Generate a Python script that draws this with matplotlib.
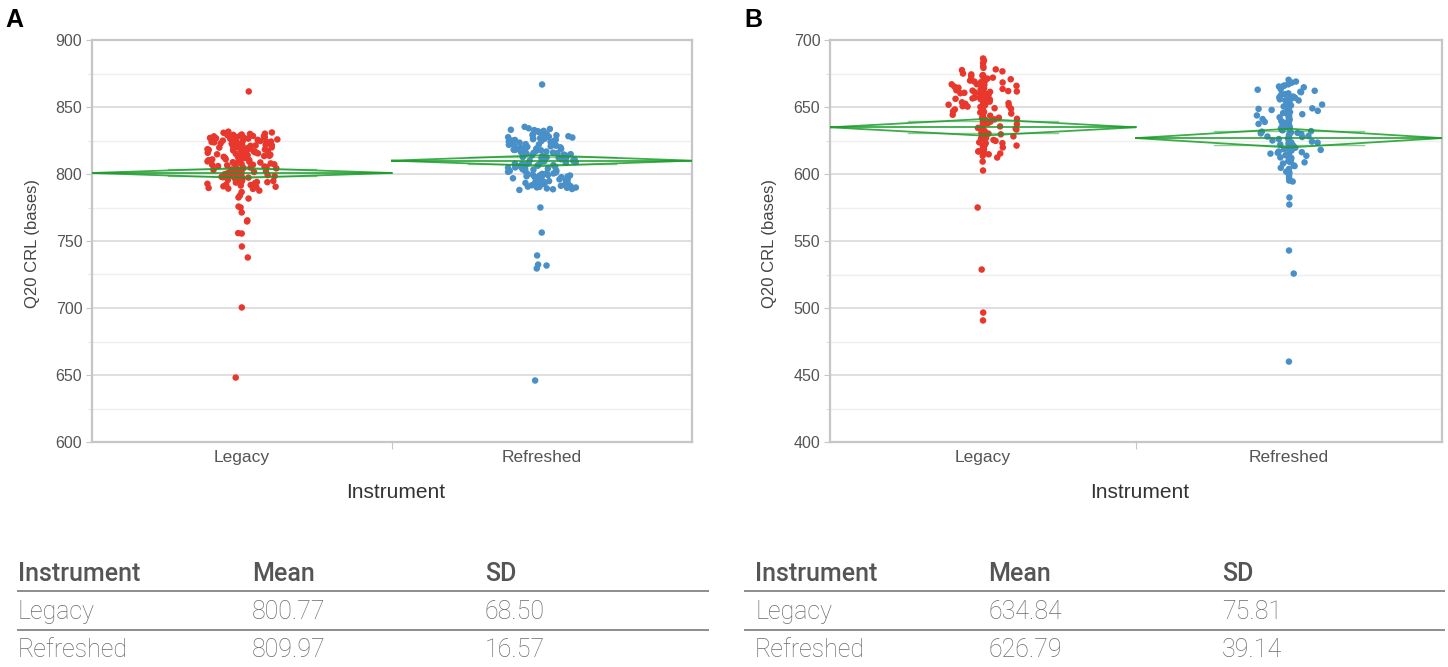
import numpy as np
import matplotlib
matplotlib.use("Agg")
import matplotlib.pyplot as plt
from matplotlib.lines import Line2D
from matplotlib.ticker import MultipleLocator

instruments = ["Legacy", "Refreshed"]

# ---- Panel A: Q20 CRL per run (bases) ----
a_legacy = [
    861.6, 782.5, 781.7, 784.0, 775.0, 775.7, 771.3, 764.6, 765.4, 755.6,
    755.9, 745.9, 737.7, 700.4, 648.1,
    829.5, 826.3, 830.8, 827.1, 824.6, 828.9, 822.4, 825.8, 831.6, 823.2,
    819.7, 826.9, 821.5, 828.2, 817.9, 824.1, 820.6, 827.6, 815.4, 822.8,
    829.9, 818.3, 825.1, 813.6, 820.2, 826.4, 816.7, 823.9, 811.8, 819.1,
    828.6, 814.9, 821.3, 809.7, 817.2, 824.7, 812.5, 819.8, 807.4, 815.6,
    822.1, 810.3, 818.6, 805.9, 813.1, 827.3, 808.6, 816.1, 803.7, 811.4,
    825.5, 806.8, 814.2, 801.9, 809.1, 823.6, 804.5, 812.8, 799.8, 807.9,
    821.9, 802.6, 810.9, 797.6, 805.2, 820.4, 800.7, 808.3, 795.8, 803.4,
    818.9, 798.9, 806.5, 794.3, 801.5, 817.5, 797.1, 804.8, 792.7, 799.6,
    815.8, 795.2, 802.9, 791.4, 797.9, 813.9, 793.6, 800.3, 790.2, 796.5,
    811.9, 792.1, 798.4, 788.9, 794.8, 810.4, 790.8, 796.9, 787.6, 793.2,
    830.1, 828.1, 826.0, 824.2, 822.6, 821.0, 819.4, 816.9, 814.4, 812.2,
    809.4, 806.1, 803.0, 800.5, 798.1, 795.5, 793.9, 791.8, 789.6, 786.5,
    825.3, 818.0, 811.0, 804.2, 797.3, 828.4, 821.7, 814.7, 807.2, 800.9,
    829.2, 823.5, 817.6, 812.0, 805.6, 799.2, 794.0, 789.1, 826.7, 820.0,
    815.1, 808.8, 802.1, 796.2, 790.5, 831.0, 824.9, 818.5, 813.4, 806.9,
]
a_refreshed = [
    866.8, 775.0, 756.3, 739.2, 731.7, 732.4, 729.5, 645.9,
    835.2, 831.4, 827.8, 833.6, 829.1, 825.4, 832.2, 828.5, 824.1, 830.7,
    826.3, 822.6, 829.4, 823.9, 820.2, 827.2, 821.8, 818.4, 825.6, 819.5,
    816.3, 823.1, 817.7, 814.8, 821.4, 815.9, 812.3, 819.9, 813.6, 810.7,
    818.1, 811.4, 808.9, 816.5, 809.6, 806.2, 814.2, 807.8, 804.5, 812.6,
    805.9, 802.3, 810.8, 803.7, 800.6, 808.4, 801.8, 798.9, 806.7, 799.4,
    796.8, 804.9, 797.6, 794.7, 802.8, 795.9, 792.6, 800.1, 793.8, 790.9,
    798.3, 791.6, 789.2, 796.2, 790.4, 788.1, 794.1, 792.0, 789.7, 797.1,
    834.1, 830.0, 826.8, 823.4, 820.7, 817.2, 813.9, 811.0, 807.3, 803.2,
    799.8, 796.5, 793.3, 790.6, 828.9, 824.8, 821.1, 815.3, 809.2, 801.1,
    795.3, 791.2, 832.8, 826.0, 818.8, 812.1, 805.1, 798.1, 791.9, 788.6,
    827.5, 822.0, 816.0, 810.0, 804.0, 799.1, 794.4, 789.9, 820.9, 807.0,
    833.0, 819.0, 811.7, 802.0, 793.0, 824.6, 813.3, 806.0, 797.8, 790.0,
    815.7, 808.1, 800.4, 792.9, 826.6, 817.9, 809.9, 803.5, 796.0, 788.8,
    831.9, 822.3, 814.5, 806.6, 798.6, 829.8, 821.2, 812.9, 804.7, 795.6,
    825.0, 818.3, 811.9, 805.4, 799.0, 792.3, 828.2, 816.8, 809.0, 801.6,
]

# ---- Panel B ----
b_legacy = [
    686.2, 684.7, 609.3, 602.6, 575.0, 528.7, 496.6, 490.7,
    675.0, 669.0, 660.6, 650.6, 655.6, 673.4, 671.2, 668.3, 666.9, 664.1,
    662.7, 661.3, 659.8, 658.4, 657.1, 655.2, 653.8, 652.4, 651.0, 649.6,
    647.9, 646.3, 644.8, 642.9, 641.2, 639.6, 637.8, 636.1, 634.4, 632.7,
    630.8, 628.9, 627.2, 625.4, 623.6, 621.7, 619.8, 617.5, 615.3, 613.6,
    682.8, 680.4, 678.1, 676.6, 674.3, 672.0, 670.4, 669.7, 667.6, 665.8,
    663.5, 661.9, 660.1, 658.9, 656.7, 654.5, 652.9, 650.3, 648.7, 645.9,
    643.5, 640.4, 637.2, 633.9, 630.1, 626.5, 622.9, 619.1, 615.9, 612.3,
    671.9, 668.6, 665.1, 662.2, 659.3, 656.1, 653.2, 649.1, 644.2, 639.1,
    634.8, 629.6, 624.7, 618.4, 614.7, 666.3, 660.9, 657.8, 651.7, 646.8,
    641.8, 636.7, 631.5, 627.9, 620.6, 616.8, 670.7, 663.0, 654.9, 648.2,
    638.5, 628.1, 673.8, 667.0, 659.0, 650.0, 642.0, 632.0, 623.0, 617.0,
    677.5, 672.8, 664.9, 657.5, 652.0, 645.1, 635.5, 625.9, 621.2, 618.9,
    661.6, 655.9, 647.4, 640.8, 633.2, 626.9, 669.2, 663.7, 658.2, 653.5,
    664.4, 660.3, 656.4, 651.4, 668.0, 662.5, 657.0, 654.0, 679.2, 666.5,
]
b_refreshed = [
    667.5, 669.0, 666.0, 665.3, 577.2, 582.5, 542.9, 525.7, 460.0, 601.0,
    670.3, 668.2, 664.7, 662.9, 661.4, 659.6, 657.8, 656.1, 654.3, 652.7,
    651.2, 649.5, 647.8, 646.2, 644.6, 643.1, 641.4, 639.8, 638.2, 636.5,
    634.9, 633.2, 631.6, 629.9, 628.3, 626.6, 625.0, 623.4, 621.7, 620.1,
    618.5, 616.8, 615.2, 613.6, 611.9, 610.3, 608.7, 606.4, 603.8, 598.9,
    595.1, 666.9, 663.3, 660.2, 657.2, 654.9, 651.8, 648.6, 645.5, 642.3,
    639.1, 635.8, 632.6, 629.4, 626.1, 622.8, 619.6, 616.3, 613.0, 609.6,
    605.9, 601.7, 597.2, 594.4, 659.0, 653.4, 647.1, 640.7, 634.1, 627.6,
    621.1, 614.6, 607.8, 655.7, 644.0, 637.4, 630.7, 624.2, 617.7, 611.2,
    662.1, 650.4, 638.9, 628.0, 618.0, 609.0, 665.8, 656.9, 646.6, 635.3,
    624.7, 615.8, 604.6, 661.0, 649.0, 641.0, 633.8, 627.0, 620.5, 612.4,
    652.2, 643.7, 636.9, 630.3, 623.6, 616.1, 658.5, 645.9, 632.0, 619.0,
    648.0, 639.5, 631.0, 622.0, 614.0, 655.0, 637.0, 625.8, 629.0, 621.4,
]

# Summary table values
a_means = [800.77, 809.97]
a_sds = [68.50, 16.57]
b_means = [634.84, 626.79]
b_sds = [75.81, 39.14]
# Half-heights of the means diamonds (95% CI of the mean)
a_ci = [3.7, 4.0]
b_ci = [6.2, 7.0]

a_ylim = (600, 900)
b_ylim = (400, 700)

# ---- styling ----
W, H = 1448, 667
RED = "#e8372c"
BLUE = "#4a90c8"
GREEN = "#1a9c2a"
SPINE = "#c6c6c6"
TEXT = "#555555"


def fx(px):
    return px / W


def fy(py):
    return 1 - py / H


def spread(vals, width, power, phase):
    """Deterministic, hash-based horizontal spread; sparse points stay near the centre."""
    n = len(vals)
    i = np.arange(n, dtype=float)
    u = (np.sin(i * 12.9898 + phase * 78.233) * 43758.5453) % 1.0
    u = u * 2 - 1
    neighbours = (np.abs(vals[:, None] - vals[None, :]) < 6).sum(axis=1)
    scale = np.clip(neighbours / 20.0, 0.2, 1.0)
    return width * scale * np.sign(u) * np.abs(u) ** power


def draw_panel(ax, groups, means, ci, ylim, power):
    for i, (vals, col) in enumerate(zip(groups, [RED, BLUE])):
        vals = np.asarray(vals, dtype=float)
        x = i + spread(vals, 0.118, power, 1.7 * (i + 1) + ylim[0] / 100)
        ax.scatter(x, vals, s=22, color=col, edgecolors="none", zorder=3)
    r2 = np.sqrt(2)
    for i, (m, h) in enumerate(zip(means, ci)):
        ax.plot([i - 0.5, i, i + 0.5, i, i - 0.5], [m, m + h, m, m - h, m],
                color=GREEN, lw=1.3, alpha=0.85, zorder=4, solid_joinstyle="miter")
        ax.plot([i - 0.5, i + 0.5], [m, m], color=GREEN, lw=1.3, alpha=0.85, zorder=4)
        d = 0.5 * (1 - 1 / r2) + 0.1
        for s in (1, -1):
            ax.plot([i - d, i + d], [m + s * h / r2] * 2, color=GREEN, lw=1.0,
                    alpha=0.5, zorder=4)

    ax.set_xlim(-0.5, 1.5)
    ax.set_ylim(*ylim)
    ax.yaxis.set_major_locator(MultipleLocator(50))
    ax.yaxis.set_minor_locator(MultipleLocator(25))
    ax.grid(which="major", axis="y", color="#dcdcdc", lw=1.3, zorder=0)
    ax.grid(which="minor", axis="y", color="#efefef", lw=1.0, zorder=0)
    ax.set_axisbelow(True)
    for sp in ax.spines.values():
        sp.set_color(SPINE)
        sp.set_linewidth(1.6)
    ax.tick_params(axis="y", which="major", length=4, color=SPINE,
                   labelsize=11.5, labelcolor=TEXT, pad=3)
    ax.tick_params(axis="y", which="minor", length=3, color="#dddddd")
    ax.set_xticks([0.5])
    ax.set_xticklabels([""])
    ax.set_xticks([0, 1], minor=True)
    ax.set_xticklabels(instruments, minor=True)
    ax.tick_params(axis="x", which="minor", length=0, pad=6,
                   labelsize=12.5, labelcolor=TEXT)
    ax.tick_params(axis="x", which="major", length=5, color=SPINE)


plt.rcParams["font.family"] = ["Liberation Sans", "DejaVu Sans"]
fig = plt.figure(figsize=(W / 100, H / 100), dpi=100)

panels = [
    dict(left=92, right=692, groups=[a_legacy, a_refreshed], means=a_means,
         ci=a_ci, ylim=a_ylim, power=1.4, letter="A", letter_x=14,
         means_txt=a_means, sds=a_sds, tab_x=(18, 252, 485), line=(18, 708)),
    dict(left=830, right=1442, groups=[b_legacy, b_refreshed], means=b_means,
         ci=b_ci, ylim=b_ylim, power=2.8, letter="B", letter_x=753,
         means_txt=b_means, sds=b_sds, tab_x=(755, 988, 1222), line=(745, 1444)),
]

top, bottom = 40, 442
for p in panels:
    ax = fig.add_axes([fx(p["left"]), fy(bottom), fx(p["right"] - p["left"]),
                       (bottom - top) / H])
    draw_panel(ax, p["groups"], p["means"], p["ci"], p["ylim"], p["power"])

    cx = (p["left"] + p["right"]) / 2
    fig.text(fx(p["left"] - 60), fy(243), "Q20 CRL (bases)", rotation=90,
             ha="center", va="center", fontsize=12, color="#444444")
    fig.text(fx(cx + 4), fy(493), "Instrument", ha="center", va="center",
             fontsize=15, color="#333333")
    fig.text(fx(p["letter_x"]), fy(20), p["letter"], ha="center", va="center",
             fontsize=18, fontweight="bold", color="black")

    # summary table
    c0, c1, c2 = p["tab_x"]
    hdr = dict(fontsize=18, color="#555555", va="center", ha="left",
               family=["Roboto", "DejaVu Sans"], fontweight="medium")
    row = dict(fontsize=18, color="#6a6a6a", va="center", ha="left",
               family=["Roboto", "DejaVu Sans"], fontweight="light")
    fig.text(fx(c0), fy(574), "Instrument", **hdr)
    fig.text(fx(c1), fy(574), "Mean", **hdr)
    fig.text(fx(c2), fy(574), "SD", **hdr)
    for k, yy in enumerate([612, 650]):
        fig.text(fx(c0), fy(yy), instruments[k], **row)
        fig.text(fx(c1), fy(yy), f"{p['means_txt'][k]:.2f}", **row)
        fig.text(fx(c2), fy(yy), f"{p['sds'][k]:.2f}", **row)
    for yy in (591, 630):
        fig.add_artist(Line2D([fx(p["line"][0]), fx(p["line"][1])], [fy(yy), fy(yy)],
                              color="#8c8c8c", lw=1.4, transform=fig.transFigure))

fig.savefig("out.png", dpi=100)
